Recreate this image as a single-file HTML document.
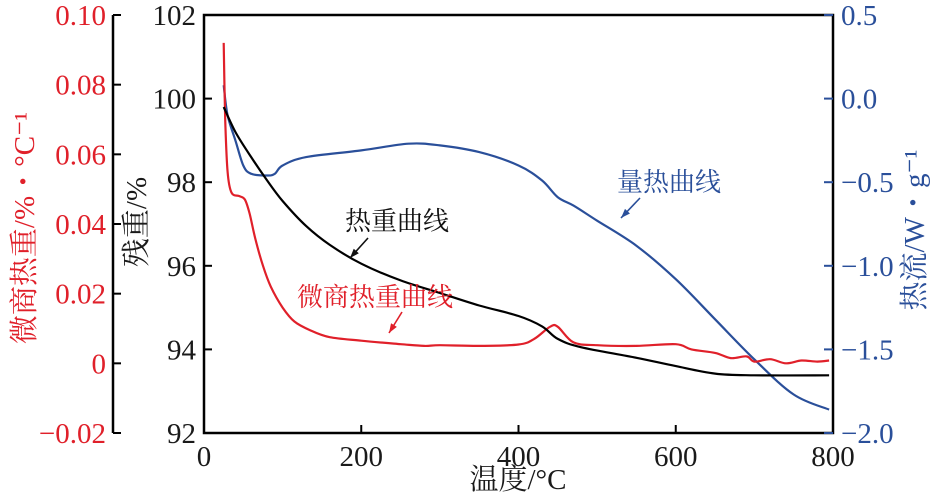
<!DOCTYPE html>
<html><head><meta charset="utf-8"><style>
body{margin:0;background:#fff;width:936px;height:497px;overflow:hidden}
svg text{font-family:"Liberation Serif","Noto Serif CJK SC",serif}
</style></head><body>
<svg id="c" width="936" height="497">
<g id="axes"></g><g id="series"></g>
</svg>
<script>
const tgT=[25,40,60,80,100,130,160,200,250,300,350,400,430,450,480,550,600,650,700,795];
const tgV=[99.8,99.2,98.6,98.05,97.55,96.95,96.5,96.05,95.65,95.35,95.05,94.8,94.55,94.25,94.05,93.8,93.6,93.42,93.38,93.38];
const dtgT=[25,27,30,35,45,52,58,65,75,85,100,115,135,160,200,250,280,300,350,400,420,440,450,470,500,550,600,620,650,670,690,700,720,740,760,780,795];
const dtgV=[0.092,0.07,0.055,0.049,0.048,0.047,0.043,0.036,0.028,0.022,0.016,0.012,0.0095,0.0075,0.0065,0.0055,0.005,0.0052,0.005,0.0054,0.007,0.0105,0.0105,0.006,0.0052,0.005,0.0055,0.004,0.003,0.0015,0.002,0.0005,0.0012,0,0.0008,0.0005,0.0008];
const dscT=[25,30,40,50,60,80,90,100,130,200,260,300,350,400,430,450,470,500,550,600,650,700,750,795];
const dscV=[0.08,-0.1,-0.25,-0.4,-0.45,-0.46,-0.45,-0.4,-0.35,-0.31,-0.27,-0.28,-0.32,-0.4,-0.49,-0.59,-0.64,-0.73,-0.88,-1.08,-1.32,-1.56,-1.77,-1.86];
const xTicks=[0,200,400,600,800];
const tgTicks=[92,94,96,98,100,102];
const dtgTicks=[-0.02,0,0.02,0.04,0.06,0.08,0.10];
const dtgLabels=["\u22120.02","0","0.02","0.04","0.06","0.08","0.10"];
const dscTicks=[-2.0,-1.5,-1.0,-0.5,0.0,0.5];
const dscLabels=["\u22122.0","\u22121.5","\u22121.0","\u22120.5","0.0","0.5"];
const L=204,R=833,T=15,B=433;
const X=t=>L+t/800*(R-L);
const Ytg=v=>B-(v-92)/10*(B-T);
const Ydtg=v=>B-(v+0.02)/0.12*(B-T);
const Ydsc=v=>B-(v+2)/2.5*(B-T);
const NS="http://www.w3.org/2000/svg";
function mk(p,tag,a,txt){const e=document.createElementNS(NS,tag);for(const k in a)e.setAttribute(k,a[k]);if(txt!==undefined)e.textContent=txt;p.appendChild(e);return e;}
const ax=document.getElementById('axes'),se=document.getElementById('series');
let e=mk(ax,'rect',{x:L,y:T,width:R-L,height:B-T,fill:'none',stroke:'#000','stroke-width':2.5});

xTicks.forEach(t=>{mk(ax,'line',{x1:X(t),x2:X(t),y1:B,y2:B-8,stroke:'#000','stroke-width':2});
 e=mk(ax,'text',{x:X(t),y:B+33,'text-anchor':'middle','font-size':29,fill:'#1a1a1a'},t);
 });
tgTicks.forEach(v=>{mk(ax,'line',{x1:L,x2:L+8,y1:Ytg(v),y2:Ytg(v),stroke:'#000','stroke-width':2});
 e=mk(ax,'text',{x:L-8,y:Ytg(v)+10,'text-anchor':'end','font-size':29,fill:'#1a1a1a'},v);
 });
e=mk(ax,'line',{x1:113,x2:113,y1:T,y2:B,stroke:'#000','stroke-width':2.5});

dtgTicks.forEach((v,i)=>{mk(ax,'line',{x1:113,x2:121,y1:Ydtg(v),y2:Ydtg(v),stroke:'#000','stroke-width':2});
 e=mk(ax,'text',{x:106,y:Ydtg(v)+10,'text-anchor':'end','font-size':29,fill:'#e0202a'},dtgLabels[i]);
 });
dscTicks.forEach((v,i)=>{mk(ax,'line',{x1:R-9,x2:R,y1:Ydsc(v),y2:Ydsc(v),stroke:'#2a4f9a','stroke-width':2});
 e=mk(ax,'text',{x:841,y:Ydsc(v)+10,'font-size':29,fill:'#2a4f9a'},dscLabels[i]);
 });
e=mk(ax,'text',{x:518,y:489,'text-anchor':'middle','font-size':29,fill:'#1a1a1a'},'温度/°C');

e=mk(ax,'text',{x:0,y:0,'text-anchor':'middle','font-size':29,fill:'#1a1a1a',transform:'translate(146,222) rotate(-90)'},'残重/%');

e=mk(ax,'text',{x:0,y:0,'text-anchor':'middle','font-size':29,fill:'#e0202a',transform:'translate(34,228) rotate(-90)'},'微商热重/%・°C⁻¹');

e=mk(ax,'text',{x:0,y:0,'text-anchor':'middle','font-size':29,fill:'#2a4f9a',transform:'translate(924,230) rotate(-90)'},'热流/W・g⁻¹');

function path(ts,vs,yf){
 const p=ts.map((t,i)=>[X(t),yf(vs[i])]);
 let d='M'+p[0][0].toFixed(1)+','+p[0][1].toFixed(1);
 for(let i=0;i<p.length-1;i++){
  const p0=p[Math.max(i-1,0)],p1=p[i],p2=p[i+1],p3=p[Math.min(i+2,p.length-1)];
  const c1=[p1[0]+(p2[0]-p0[0])/6,p1[1]+(p2[1]-p0[1])/6],c2=[p2[0]-(p3[0]-p1[0])/6,p2[1]-(p3[1]-p1[1])/6];
  d+='C'+c1.map(v=>v.toFixed(1))+' '+c2.map(v=>v.toFixed(1))+' '+p2.map(v=>v.toFixed(1));
 }
 return d;}
e=mk(se,'path',{d:path(dscT,dscV,Ydsc),fill:'none',stroke:'#2a4f9a','stroke-width':2.2,'stroke-linejoin':'round'});

e=mk(se,'path',{d:path(dtgT,dtgV,Ydtg),fill:'none',stroke:'#e0202a','stroke-width':2.2,'stroke-linejoin':'round'});

e=mk(se,'path',{d:path(tgT,tgV,Ytg),fill:'none',stroke:'#000','stroke-width':2.2,'stroke-linejoin':'round'});

function ann(txt,x,y,col,x1,y1,x2,y2,name){
 e=mk(se,'text',{x:x,y:y,'font-size':26,fill:col},txt);
 
 mk(se,'line',{x1:x1,y1:y1,x2:x2,y2:y2,stroke:col,'stroke-width':1.6});
 const a=Math.atan2(y2-y1,x2-x1),s=10;
 mk(se,'polygon',{points:`${x2},${y2} ${x2-s*Math.cos(a-0.35)},${y2-s*Math.sin(a-0.35)} ${x2-s*Math.cos(a+0.35)},${y2-s*Math.sin(a+0.35)}`,fill:col});
}
ann('热重曲线',345,230,'#111',368,238,350,258,'tg-annotation');
ann('量热曲线',617,191,'#2a4f9a',640,198,621,218,'dsc-annotation');
ann('微商热重曲线',297,306,'#e0202a',402,312,389,333,'dtg-annotation');
</script>
</body></html>
